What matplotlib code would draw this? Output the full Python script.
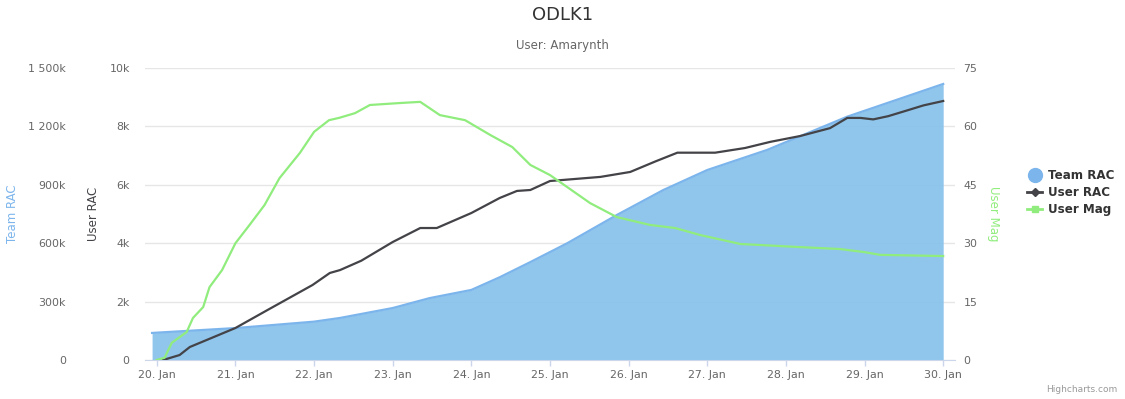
import matplotlib.pyplot as plt
from matplotlib.lines import Line2D
from matplotlib.ticker import FuncFormatter

# Team RAC (area), x in days of January
team_days = [19.94, 21.0, 22.0, 22.33, 23.0, 23.47, 24.0, 24.36, 24.75, 25.22,
             25.85, 26.44, 27.0, 27.76, 28.78, 30.0]
team_rac = [139e3, 164e3, 197e3, 216e3, 267e3, 318e3, 360e3, 425e3, 503e3, 600e3,
            745e3, 873e3, 976e3, 1079e3, 1250e3, 1418e3]

# User RAC (black line)
user_days = [20.08, 20.29, 20.42, 21.0, 21.4, 21.98, 22.2, 22.33, 22.6, 23.0, 23.35,
             23.56, 24.0, 24.36, 24.58, 24.75, 25.0, 25.32, 25.64, 26.02, 26.34,
             26.62, 27.1, 27.48, 27.8, 28.18, 28.56, 28.78, 28.95, 29.11, 29.3,
             29.52, 29.75, 30.0]
user_rac = [0, 170, 445, 1096, 1700, 2568, 2980, 3080, 3400, 4041, 4520,
            4520, 5034, 5548, 5790, 5822, 6130, 6200, 6270, 6440, 6800,
            7100, 7100, 7260, 7470, 7670, 7940, 8290, 8290, 8240, 8350,
            8530, 8720, 8870]

# User Mag (green line)
mag_days = [20.0, 20.1, 20.19, 20.38, 20.46, 20.59, 20.67, 20.83, 21.0, 21.18,
            21.37, 21.56, 21.82, 22.0, 22.19, 22.32, 22.52, 22.71, 23.09, 23.35,
            23.6, 23.92, 24.24, 24.52, 24.75, 25.0, 25.22, 25.51, 25.85, 26.27,
            26.59, 26.91, 27.42, 28.18, 28.69, 29.0, 29.2, 30.0]
user_mag = [0, 0.6, 4.4, 7.2, 10.8, 13.6, 18.7, 23.1, 30.0, 34.7,
            39.8, 46.7, 53.2, 58.6, 61.6, 62.2, 63.4, 65.5, 66.0, 66.3,
            62.9, 61.6, 57.8, 54.7, 50.1, 47.5, 44.4, 40.3, 36.7, 34.7,
            33.9, 32.1, 29.8, 29.0, 28.5, 27.7, 27.0, 26.7]

x_ticks = list(range(20, 31))
x_labels = [f"{d}. Jan" for d in x_ticks]
team_ticks = [0, 300e3, 600e3, 900e3, 1200e3, 1500e3]
user_ticks = [0, 2000, 4000, 6000, 8000, 10000]
mag_ticks = [0, 15, 30, 45, 60, 75]

blue = '#7cb5ec'
black = '#434348'
green = '#90ed7d'
fs = 7.9

plt.rcParams['font.family'] = ['DejaVu Sans']

fig = plt.figure(figsize=(11.25, 3.99), dpi=100)
ax_team = fig.add_axes([145/1125, 1 - 360/399, 810/1125, 292/399])
ax_user = ax_team.twinx()
ax_mag = ax_team.twinx()

# area
ax_team.fill_between(team_days, team_rac, 0, color='#87c2eb', alpha=0.92, lw=0)
ax_team.plot(team_days, team_rac, color=blue, lw=1.6)
ax_user.plot(user_days, user_rac, color=black, lw=1.6)
ax_mag.plot(mag_days, user_mag, color=green, lw=1.6)

ax_team.set_xlim(19.85, 30.15)
ax_team.set_ylim(0, 1500e3)
ax_user.set_ylim(0, 10000)
ax_mag.set_ylim(0, 75)

ax_team.set_xticks(x_ticks)
ax_team.set_xticklabels(x_labels)
ax_team.tick_params(axis='x', length=4, width=1, color='#ccd6eb', pad=3,
                    labelsize=fs, labelcolor='#666666')

ax_team.set_yticks(team_ticks)
ax_team.yaxis.set_major_formatter(FuncFormatter(
    lambda v, p: "0" if v == 0 else f"{int(v/1000):,}k".replace(",", " ")))
ax_team.tick_params(axis='y', length=0, pad=57, labelsize=fs, labelcolor='#666666')
ax_team.grid(axis='y', color='#e6e6e6', lw=1)
ax_team.set_axisbelow(True)

ax_user.yaxis.set_ticks_position('left')
ax_user.yaxis.set_label_position('left')
ax_user.set_yticks(user_ticks)
ax_user.yaxis.set_major_formatter(FuncFormatter(
    lambda v, p: "0" if v == 0 else f"{int(v/1000)}k"))
ax_user.tick_params(axis='y', length=0, pad=11, labelsize=fs, labelcolor='#666666')

ax_mag.set_yticks(mag_ticks)
ax_mag.tick_params(axis='y', length=0, pad=6, labelsize=fs, labelcolor='#666666')

for a in (ax_team, ax_user, ax_mag):
    for s in a.spines.values():
        s.set_visible(False)
ax_team.spines['bottom'].set_visible(True)
ax_team.spines['bottom'].set_color('#ccd6eb')

ax_team.set_ylabel("Team RAC", color=blue, fontsize=8.5)
ax_team.yaxis.set_label_coords(-0.156, 0.5)
ax_user.set_ylabel("User RAC", color=black, fontsize=8.5)
ax_user.yaxis.set_label_coords(-0.056, 0.5)
ax_mag.set_ylabel("User Mag", color=green, fontsize=8.5, rotation=-90, va='center')
ax_mag.yaxis.set_label_coords(1.047, 0.5)

fig.text(0.5, 1 - 15/399, "ODLK1", ha='center', va='center', fontsize=13, color='#333333')
fig.text(0.5, 1 - 45/399, "User: Amarynth", ha='center', va='center', fontsize=8.5,
         color='#666666')
fig.text(1117/1125, 1 - 389/399, "Highcharts.com", ha='right', va='center', fontsize=6.5,
         color='#999999')

handles = [
    Line2D([], [], color=blue, marker='o', ls='none', markersize=10),
    Line2D([], [], color=black, marker='D', markersize=4, lw=2),
    Line2D([], [], color=green, marker='s', markersize=5, lw=2),
]
leg = fig.legend(handles, ["Team RAC", "User RAC", "User Mag"], loc='upper left',
                 bbox_to_anchor=(1016/1125, 1 - 158/399), frameon=False,
                 prop={'weight': 'bold', 'size': 8.6}, handlelength=1.3,
                 handletextpad=0.5, labelspacing=0.35)
for t in leg.get_texts():
    t.set_color('#333333')

fig.savefig('out.png', dpi=100)
